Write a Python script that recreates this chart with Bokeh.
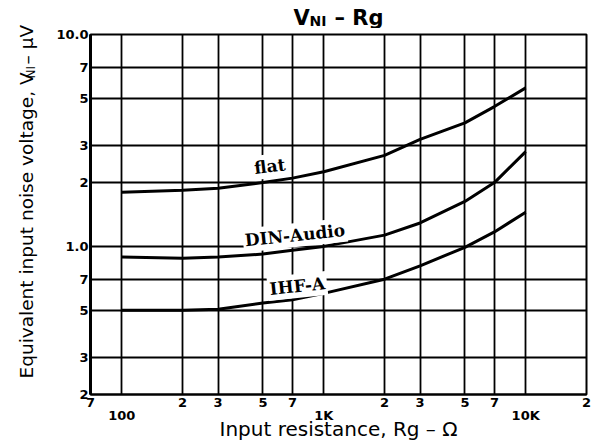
import math
from bokeh.plotting import figure
from bokeh.layouts import row, column
from bokeh.models import Label, FixedTicker, Range1d, LogAxis
from bokeh.embed import file_html
from bokeh.resources import INLINE

# ---- data ----
resistance = [100, 200, 300, 500, 700, 1000, 2000, 3000, 5000, 7000, 10000]
flat = [1.80, 1.84, 1.88, 2.00, 2.10, 2.25, 2.69, 3.20, 3.83, 4.57, 5.60]
din_audio = [0.89, 0.88, 0.89, 0.92, 0.96, 1.00, 1.13, 1.29, 1.63, 2.00, 2.80]
ihf_a = [0.50, 0.50, 0.505, 0.54, 0.56, 0.60, 0.70, 0.81, 0.99, 1.17, 1.45]

x_ticks = [70, 100, 200, 300, 500, 700, 1000, 2000, 3000, 5000, 7000, 10000, 20000]
x_tick_labels = ["7", "", "2", "3", "5", "7", "", "2", "3", "5", "7", "", "2"]
decade_ticks = [100, 1000, 10000]
decade_labels = ["100", "1K", "10K"]
y_ticks = [0.2, 0.3, 0.5, 0.7, 1, 2, 3, 5, 7, 10]
y_tick_labels = ["2", "3", "5", "7", "1.0", "2", "3", "5", "7", "10.0"]

title_parts = ["V", "NI", "– Rg"]
x_title = "Input resistance, Rg – Ω"
y_title_parts = ["Equivalent input noise voltage, V", "NI", " – μV"]

sans = "DejaVu Sans"
serif = "DejaVu Serif"
tick_font = "DejaVu Sans"

PAGE_W, PAGE_H = 594, 444
LEFT_W, TOP_H = 50, 28
FRAME_L, FRAME_R = 90, 586   # page x of the chart frame (title strip frame is aligned to it)
FRAME_T, FRAME_B = 34, 394


def blank(width, height, x0, x1, y0, y1):
    f = figure(width=width, height=height, x_range=Range1d(x0, x1), y_range=Range1d(y0, y1),
               x_axis_location=None, y_axis_location=None, output_backend="svg",
               toolbar_location=None, min_border=0)
    f.outline_line_color = None
    f.grid.visible = False
    f.background_fill_color = "white"
    f.border_fill_color = "white"
    return f


# ---- left strip: rotated y title ----
left = blank(LEFT_W, PAGE_H, 0, LEFT_W, PAGE_H, 0)
for txt, x, y, fs in ((y_title_parts[0], 26, 378, "18.5px"),
                      (y_title_parts[1], 30, 78, "12px"),
                      (y_title_parts[2], 26, 64, "18.5px")):
    left.add_layout(Label(x=x, y=y, text=txt, angle=math.pi / 2, text_font=sans,
                          text_font_size=fs, text_baseline="alphabetic", text_align="left",
                          text_color="black"))

# ---- top strip: title ----
top = blank(PAGE_W - LEFT_W, TOP_H, FRAME_L, FRAME_R, TOP_H, 0)
for txt, x, y, fs in ((title_parts[0], 293, 17, "21px"),
                      (title_parts[1], 309, 20, "14px"),
                      (title_parts[2], 334, 17, "21px")):
    top.add_layout(Label(x=x, y=y, text=txt, text_font=sans, text_font_style="bold",
                         text_font_size=fs, text_baseline="alphabetic", text_align="left",
                         text_color="black"))

# ---- main chart ----
p = figure(width=PAGE_W - LEFT_W, height=PAGE_H - TOP_H, x_axis_type="log", y_axis_type="log",
           x_range=Range1d(70, 20000), y_range=Range1d(0.2, 10),
           output_backend="svg", toolbar_location=None,
           min_border_left=FRAME_L - LEFT_W, min_border_right=PAGE_W - FRAME_R,
           min_border_top=FRAME_T - TOP_H, min_border_bottom=PAGE_H - FRAME_B)
p.outline_line_color = "black"
p.outline_line_width = 2
p.background_fill_color = "white"
p.border_fill_color = "white"

for g, t in ((p.xgrid, x_ticks), (p.ygrid, y_ticks)):
    g.ticker = FixedTicker(ticks=t)
    g.grid_line_color = "black"
    g.grid_line_width = 1.8
    g.grid_line_alpha = 1

xa = p.xaxis[0]
xa.ticker = FixedTicker(ticks=x_ticks)
xa.major_label_overrides = {t: l for t, l in zip(x_ticks, x_tick_labels)}
ya = p.yaxis[0]
ya.ticker = FixedTicker(ticks=y_ticks)
ya.major_label_overrides = {t: l for t, l in zip(y_ticks, y_tick_labels)}

xb = LogAxis(ticker=FixedTicker(ticks=decade_ticks),
             major_label_overrides={t: l for t, l in zip(decade_ticks, decade_labels)},
             axis_label=x_title)
p.add_layout(xb, "below")

for ax in (xa, ya, xb):
    ax.major_tick_out = 0
    ax.major_tick_in = 0
    ax.minor_tick_out = 0
    ax.minor_tick_in = 0
    ax.axis_line_color = "black"
    ax.major_label_text_font = tick_font
    ax.major_label_text_font_style = "bold"
    ax.major_label_text_font_size = "13px"
    ax.major_label_text_color = "black"
xa.axis_line_width = 2
ya.axis_line_width = 3
xb.axis_line_color = None
xa.major_label_standoff = 3
ya.major_label_standoff = 2
xb.major_label_standoff = -2
xb.axis_label_standoff = -9
xb.axis_label_text_font = sans
xb.axis_label_text_font_style = "normal"
xb.axis_label_text_font_size = "20px"
xb.axis_label_text_color = "black"

for vals in (flat, din_audio, ihf_a):
    p.line(resistance, vals, line_color="black", line_width=3)

# curve labels
for txt, x, y, ang in (("flat", 540, 2.39, 7), ("DIN-Audio", 720, 1.13, 6), ("IHF-A", 740, 0.65, 6)):
    p.add_layout(Label(x=x, y=y, text=txt, angle=math.radians(ang),
                       text_align="center", text_baseline="middle",
                       text_font=serif, text_font_style="bold", text_font_size="17px",
                       text_color="black", background_fill_color="white", padding=2))

layout = row(left, column(top, p, spacing=0), spacing=0)
open("out.html", "w").write(file_html(layout, INLINE))
